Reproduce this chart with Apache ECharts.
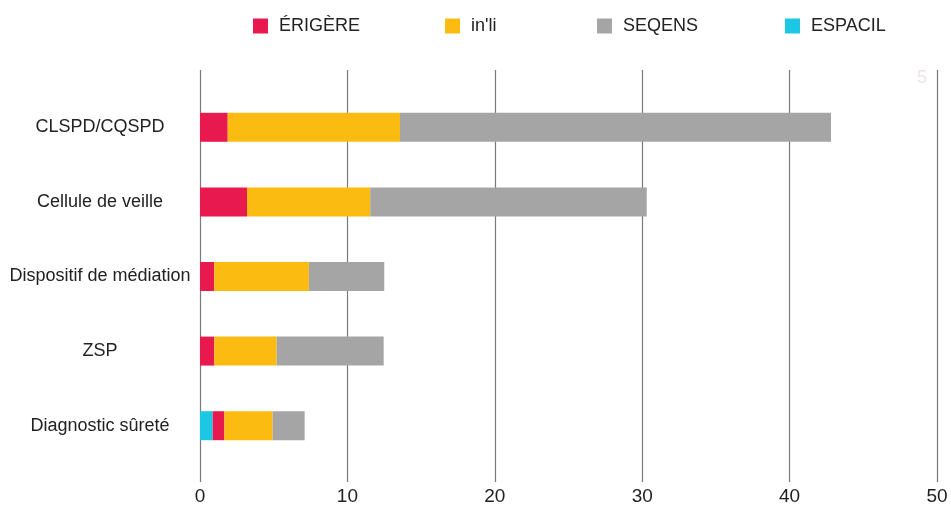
<!DOCTYPE html>
<html>
<head>
<meta charset="utf-8">
<script src="https://cdn.jsdelivr.net/npm/echarts@6/dist/echarts.min.js"></script>
<style>html,body{margin:0;padding:0;background:#fff}#c{width:951px;height:508px}</style>
</head>
<body>
<div id="c"></div>
<script>
const categories = ["CLSPD/CQSPD", "Cellule de veille", "Dispositif de médiation", "ZSP", "Diagnostic sûreté"];
const espacil = [0, 0, 0, 0, 0.86];
const erigere = [1.88, 3.19, 0.97, 0.97, 0.79];
const inli = [11.69, 8.36, 6.42, 4.23, 3.28];
const seqens = [29.24, 18.76, 5.11, 7.26, 2.17];
const xTicks = { min: 0, max: 50, interval: 10 };

const FONT = "Liberation Sans, Arial, sans-serif";
const colors = { "ÉRIGÈRE": "#e8194f", "in'li": "#fbbb10", "SEQENS": "#a5a5a5", "ESPACIL": "#1cc7e4" };

const chart = echarts.init(document.getElementById('c'));
function legendAt(name, left) {
  return {
    data: [name], left: left, top: 12, itemWidth: 15, itemHeight: 15, icon: 'rect',
    textStyle: { fontFamily: FONT, fontSize: 18, color: '#222', padding: [0, 0, 0, 6] },
    selectedMode: false
  };
}
function bar(name, data) {
  return {
    name: name, type: 'bar', stack: 'total', data: data, xAxisIndex: 1, yAxisIndex: 1,
    barWidth: 29, itemStyle: { color: colors[name] }, emphasis: { disabled: true }
  };
}
chart.setOption({
  animation: false,
  textStyle: { fontFamily: FONT },
  legend: [legendAt("ÉRIGÈRE", 248), legendAt("in'li", 440), legendAt("SEQENS", 592), legendAt("ESPACIL", 780)],
  grid: [
    { left: 200, right: 14, top: 70, bottom: 26 },
    { left: 200, right: 14, top: 90, bottom: 45 }
  ],
  xAxis: [
    { type: 'value', gridIndex: 0, min: xTicks.min, max: xTicks.max, interval: xTicks.interval,
      axisLine: { show: false }, axisTick: { show: false },
      splitLine: { show: true, lineStyle: { color: '#7a7a7a', width: 1.2 } },
      axisLabel: { fontFamily: FONT, fontSize: 19, color: '#222', margin: 5 } },
    { type: 'value', gridIndex: 1, min: xTicks.min, max: xTicks.max, interval: xTicks.interval, show: false }
  ],
  yAxis: [
    { type: 'value', gridIndex: 0, show: false },
    { type: 'category', gridIndex: 1, data: categories, inverse: true,
      axisLine: { show: false }, axisTick: { show: false },
      axisLabel: { fontFamily: FONT, fontSize: 18, color: '#222', align: 'center', margin: 100 } }
  ],
  series: [bar("ESPACIL", espacil), bar("ÉRIGÈRE", erigere), bar("in'li", inli), bar("SEQENS", seqens)],
  graphic: [{ type: 'text', left: 917, top: 69, style: { text: '5', fontSize: 18, fill: '#ece4e6', fontFamily: FONT } }]
});
</script>
</body>
</html>
